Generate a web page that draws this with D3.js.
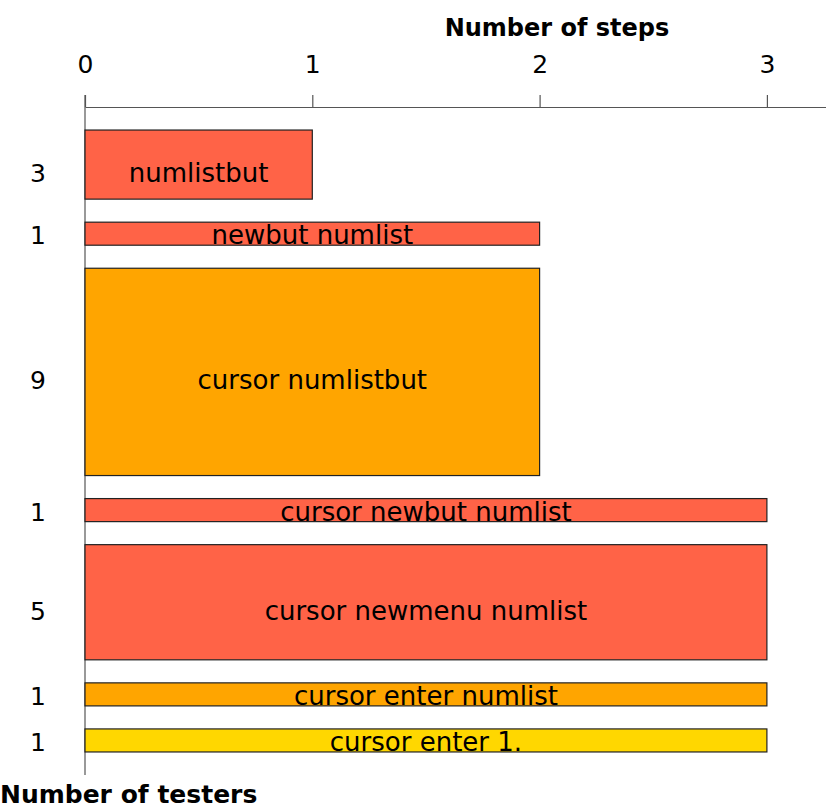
<!DOCTYPE html>
<html>
<head>
<meta charset="utf-8">
<script src="https://cdn.jsdelivr.net/npm/d3@7"></script>
<style>
  html, body { margin: 0; padding: 0; background: #fff; }
  svg { display: block; }
  text { font-family: "DejaVu Sans", sans-serif; }
</style>
</head>
<body>
<svg id="chart" width="826" height="809"></svg>
<script>
const sequences = ["numlistbut", "newbut numlist", "cursor numlistbut", "cursor newbut numlist",
                   "cursor newmenu numlist", "cursor enter numlist", "cursor enter 1."];
const testers = [3, 1, 9, 1, 5, 1, 1];
const steps = [1, 2, 2, 3, 3, 3, 3];
const barColors = ["#FF6347", "#FF6347", "#FFA500", "#FF6347", "#FF6347", "#FFA500", "#FFD700"];
const stepTicks = [0, 1, 2, 3];
const xTitle = "Number of steps";
const yTitle = "Number of testers";

const FONT = "'DejaVu Sans', sans-serif";
const svg = d3.select("#chart");

// layout in "tester units": one unit gap before each bar, one at bottom
let cum = 0;
const rows = sequences.map((s, i) => {
  const start = cum + 1;
  cum = start + testers[i];
  return { label: s, n: testers[i], steps: steps[i], color: barColors[i], start, end: cum };
});
const totalUnits = cum + 1;

const x = d3.scaleLinear().domain([0, 3.26]).range([85, 826]);
const y = d3.scaleLinear().domain([0, totalUnits]).range([107, 775]);

// x axis on top
const xAxis = d3.axisTop(x).tickValues(stepTicks).tickFormat(d3.format("d")).tickSize(12).tickSizeOuter(0).tickPadding(22);
const gx = svg.append("g").attr("transform", `translate(0,${y(0)})`).call(xAxis);
gx.select(".domain").attr("stroke", "#555").attr("stroke-width", 1.2);
gx.selectAll(".tick line").attr("stroke", "#555").attr("stroke-width", 1.2);
gx.selectAll(".tick text").attr("font-size", 25).attr("fill", "#000")
  .attr("font-family", FONT);

// vertical axis line
svg.append("line")
  .attr("x1", x(0)).attr("x2", x(0))
  .attr("y1", y(0) - 12).attr("y2", y(totalUnits))
  .attr("stroke", "#555").attr("stroke-width", 1.2);

// bars
const g = svg.append("g");
g.selectAll("rect").data(rows).join("rect")
  .attr("x", x(0))
  .attr("y", d => y(d.start))
  .attr("width", d => x(d.steps) - x(0))
  .attr("height", d => y(d.end) - y(d.start))
  .attr("fill", d => d.color)
  .attr("stroke", "#222")
  .attr("stroke-width", 1.2);

const labelY = d => Math.min((y(d.start) + y(d.end)) / 2 + 17.5, y(d.end) - 1);

g.selectAll("text.bar-label").data(rows).join("text")
  .attr("class", "bar-label")
  .attr("x", d => (x(0) + x(d.steps)) / 2)
  .attr("y", labelY)
  .attr("text-anchor", "middle")
  .attr("font-size", 26)
  .attr("fill", "#000")
  .text(d => d.label);

g.selectAll("text.count").data(rows).join("text")
  .attr("class", "count")
  .attr("x", 38)
  .attr("y", labelY)
  .attr("text-anchor", "middle")
  .attr("font-size", 25)
  .attr("fill", "#000")
  .text(d => d.n);

// titles
svg.append("text")
  .attr("x", 557).attr("y", 36)
  .attr("text-anchor", "middle")
  .attr("font-size", 24).attr("font-weight", "bold")
  .text(xTitle);

svg.append("text")
  .attr("x", 0).attr("y", 803)
  .attr("font-size", 25).attr("font-weight", "bold")
  .text(yTitle);
</script>
</body>
</html>
